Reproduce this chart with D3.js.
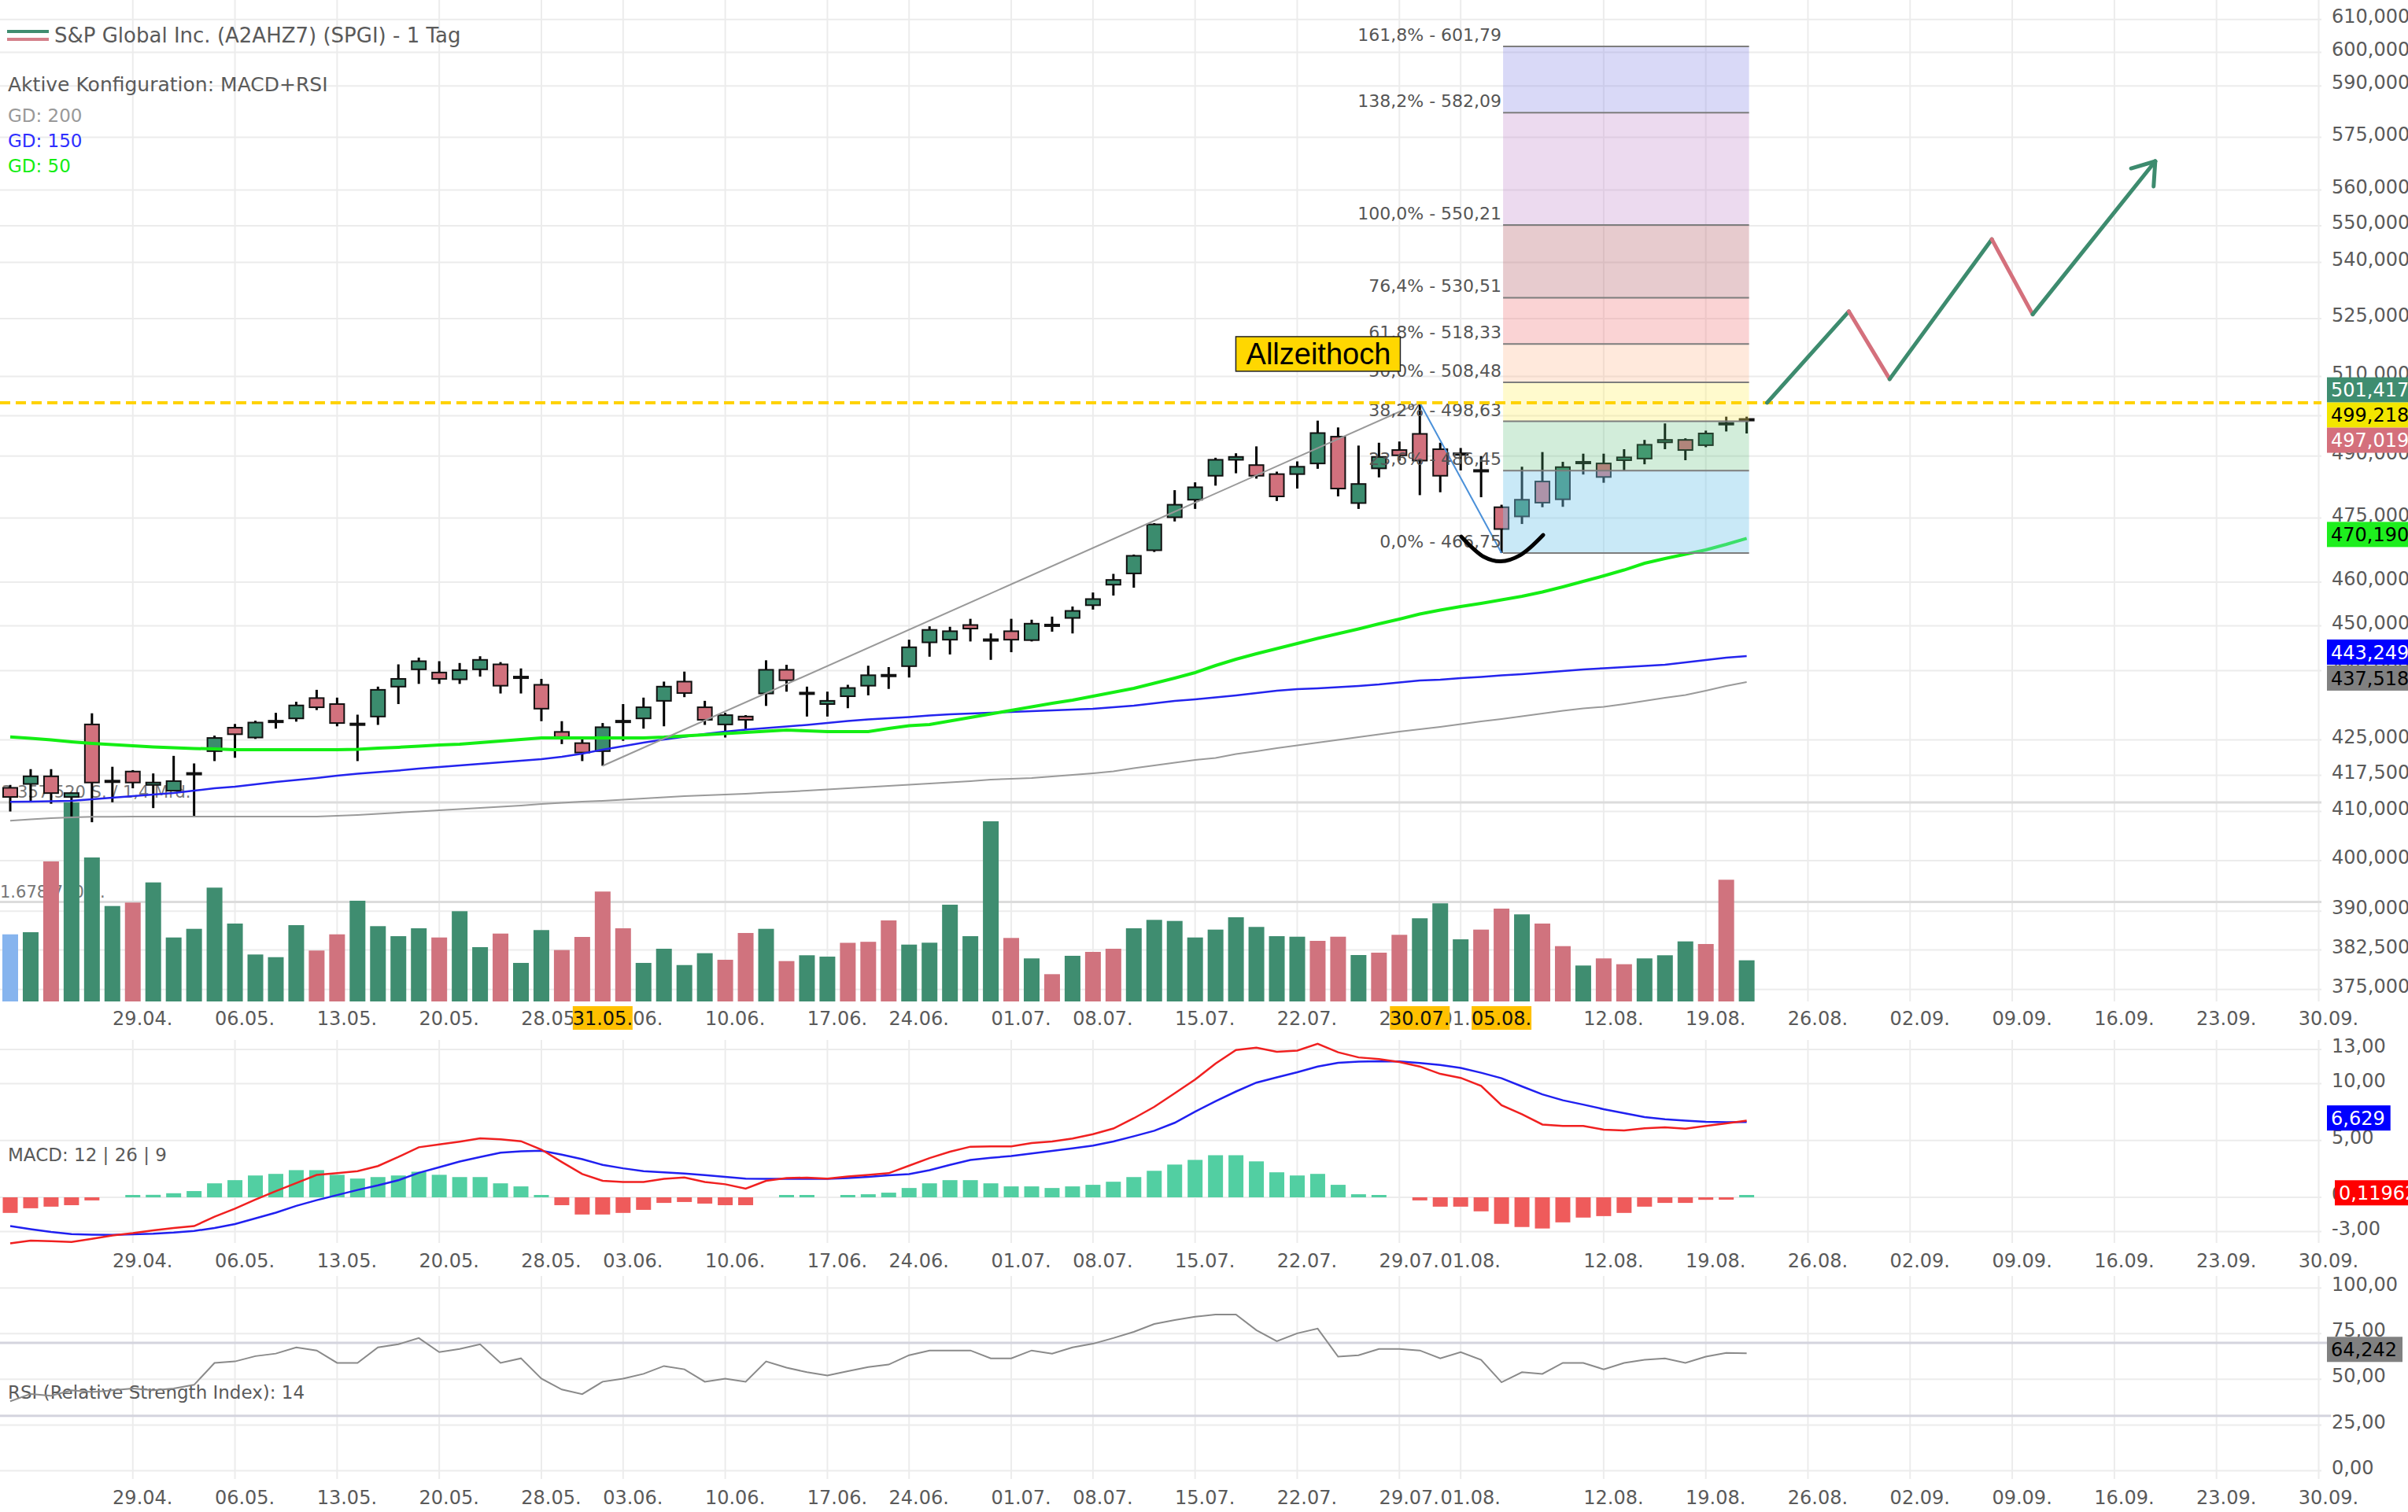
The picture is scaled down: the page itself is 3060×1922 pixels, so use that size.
<!DOCTYPE html>
<html><head><meta charset="utf-8">
<script src="https://cdn.jsdelivr.net/npm/d3@7"></script>
<style>html,body{margin:0;padding:0;background:#fff;}svg{display:block;font-family:"DejaVu Sans",Verdana,sans-serif;}</style>
</head><body>
<svg id="c" width="3060" height="1922"></svg>
<script>
// ---------------- DATA ----------------
const tradingDates = ["19.04.","22.04.","23.04.","24.04.","25.04.","26.04.","29.04.","30.04.","01.05.","02.05.","03.05.","06.05.","07.05.","08.05.","09.05.","10.05.","13.05.","14.05.","15.05.","16.05.","17.05.","20.05.","21.05.","22.05.","23.05.","24.05.","28.05.","29.05.","30.05.","31.05.","03.06.","04.06.","05.06.","06.06.","07.06.","10.06.","11.06.","12.06.","13.06.","14.06.","17.06.","18.06.","20.06.","21.06.","24.06.","25.06.","26.06.","27.06.","28.06.","01.07.","02.07.","03.07.","05.07.","08.07.","09.07.","10.07.","11.07.","12.07.","15.07.","16.07.","17.07.","18.07.","19.07.","22.07.","23.07.","24.07.","25.07.","26.07.","29.07.","30.07.","31.07.","01.08.","02.08.","05.08.","06.08.","07.08.","08.08.","09.08.","12.08.","13.08.","14.08.","15.08.","16.08.","19.08.","20.08.","21.08."];
const futureDates = ["22.08.","23.08.","26.08.","27.08.","28.08.","29.08.","30.08.","02.09.","03.09.","04.09.","05.09.","06.09.","09.09.","10.09.","11.09.","12.09.","13.09.","16.09.","17.09.","18.09.","19.09.","20.09.","23.09.","24.09.","25.09.","26.09.","27.09.","30.09."];
const tickLabels = ["29.04.","06.05.","13.05.","20.05.","28.05.","03.06.","10.06.","17.06.","24.06.","01.07.","08.07.","15.07.","22.07.","29.07.","01.08.","12.08.","19.08.","26.08.","02.09.","09.09.","16.09.","23.09.","30.09."];
const highlightDates = ["31.05.","30.07.","05.08."];

const opens = [414.9,415.7,417.3,413.0,428.3,416.2,418.3,415.5,414.3,417.8,422.6,427.6,425.5,428.9,429.6,434.0,432.7,428.3,430.0,436.5,440.3,439.6,438.1,440.3,441.4,438.5,436.9,426.7,424.3,422.6,428.9,429.6,433.4,437.6,432.0,428.3,430.0,435.0,440.2,435.0,432.7,434.4,436.7,438.9,441.0,446.3,446.9,450.2,446.8,448.8,446.8,450.2,451.8,454.7,459.4,462.0,467.4,475.2,479.4,485.2,489.1,487.8,485.6,485.6,488.2,494.8,478.6,487.0,491.5,495.5,491.7,490.7,486.6,477.6,475.4,483.8,479.5,488.4,488.2,489.0,489.4,493.4,494.0,492.7,498.0,499.0];
const highs = [415.5,418.8,418.8,413.9,430.7,419.3,418.6,417.9,421.6,420.0,425.9,428.4,429.1,430.8,433.2,435.8,434.1,430.4,436.5,441.4,442.9,442.1,441.7,443.2,441.9,440.5,438.2,429.0,425.1,428.6,432.7,434.1,437.6,439.8,433.4,430.8,430.3,442.3,441.3,436.5,435.4,436.9,441.1,440.8,446.9,449.9,449.8,451.6,448.3,451.6,451.4,452.1,454.4,457.6,461.9,466.4,473.8,481.7,483.6,489.6,490.7,492.4,486.2,488.7,498.8,497.1,492.6,493.3,493.6,503.3,493.3,492.0,490.0,478.2,487.4,491.0,488.6,490.6,490.6,491.7,494.0,498.1,494.4,496.3,499.8,499.8];
const lows = [410.0,411.9,411.6,409.0,407.8,411.9,414.8,410.7,414.2,408.9,420.5,421.2,425.2,427.4,428.9,431.4,427.9,420.5,428.2,432.7,437.1,437.1,437.1,438.7,435.0,435.0,429.0,424.1,420.5,419.5,424.8,427.4,427.9,434.2,428.2,425.5,427.3,432.3,435.4,430.0,430.0,431.8,434.6,436.0,438.5,443.1,443.6,446.5,442.4,444.1,446.5,448.7,448.3,453.7,456.9,458.7,467.0,474.2,477.2,482.8,485.8,484.5,479.1,482.1,486.9,480.2,477.2,484.8,488.9,480.5,481.2,486.5,480.0,466.75,473.6,477.6,477.7,485.5,483.5,486.4,488.0,491.7,489.0,492.2,496.1,495.6];
const closes = [413.0,417.3,413.8,413.8,416.0,416.4,416.0,416.0,416.3,418.0,425.4,426.2,428.7,429.1,432.4,432.0,428.6,428.5,435.8,438.2,442.1,438.2,440.1,442.4,436.7,438.7,431.7,425.6,422.3,427.7,429.1,432.0,436.5,435.1,429.3,430.3,429.3,440.2,437.9,435.2,433.4,436.2,439.0,439.1,445.2,449.1,448.8,449.4,447.0,446.9,450.5,450.3,453.4,456.1,460.5,466.1,473.5,478.2,482.4,489.1,489.8,485.2,480.2,487.4,495.7,482.1,483.2,489.8,490.2,488.9,485.2,490.5,486.4,472.4,479.4,478.7,487.3,488.6,484.9,489.7,492.8,494.0,491.5,495.6,498.2,499.218];
const volumes = [1132000,1168000,2362000,3357520,2429000,1610000,1668000,2008000,1079000,1225000,1920000,1314000,792000,747000,1287000,859000,1132000,1699000,1270000,1101000,1234000,1079000,1522000,916000,1145000,650000,1204000,867000,1088000,1854000,1234000,650000,889000,614000,814000,703000,1155000,1225000,681000,779000,756000,989000,1006000,1367000,959000,991000,1632000,1101000,3039000,1071000,726000,460000,770000,836000,889000,1234000,1376000,1358000,1079000,1212000,1420000,1257000,1101000,1092000,1022000,1092000,783000,823000,1124000,1403000,1655000,1048000,1212000,1566000,1469000,1314000,933000,606000,726000,628000,726000,779000,1013000,969000,2053000,694000];
const volumeDir = "nuduuuduuuuuuuudduuuuduuduudddduuuudduduuddduuuuudududduuuuuuuuuddudduuudduddudduuudduuu".slice(0,86);
const volumeMaxLabel = 3357520;
const volumeTurnoverMrd = 1.4;

const gd200 = [408.1,408.39,408.63,408.79,408.91,408.92,408.95,408.95,408.95,408.95,408.95,408.95,408.95,408.95,408.95,408.95,409.12,409.28,409.52,409.77,410.01,410.25,410.5,410.74,410.98,411.22,411.55,411.79,412.03,412.19,412.44,412.68,412.93,413.17,413.34,413.5,413.66,413.91,414.07,414.32,414.56,414.8,415.05,415.3,415.55,415.79,416.04,416.28,416.61,416.77,416.94,417.27,417.6,417.93,418.34,419.0,419.58,420.16,420.74,421.16,421.99,422.57,423.24,423.83,424.41,425.0,425.58,426.17,426.76,427.26,427.77,428.36,428.95,429.46,430.06,430.65,431.24,431.75,432.1,432.69,433.38,434.06,434.66,435.6,436.64,437.518];
const gd150 = [411.98,412.03,412.11,412.19,412.52,412.85,413.17,413.5,413.83,414.32,414.8,415.13,415.62,416.12,416.53,416.94,417.43,417.85,418.17,418.5,418.92,419.25,419.58,419.91,420.25,420.58,420.91,421.41,422.07,422.91,423.66,424.41,425.08,425.67,426.26,426.76,427.18,427.52,427.85,428.19,428.61,429.04,429.38,429.63,429.89,430.23,430.48,430.65,430.82,430.99,431.16,431.33,431.5,431.67,432.01,432.35,432.87,433.38,433.72,434.15,434.57,435.09,435.6,435.95,436.12,436.38,436.64,436.98,437.42,437.85,438.02,438.36,438.62,438.97,439.23,439.58,439.92,440.27,440.53,440.79,441.05,441.3,441.83,442.36,442.88,443.249];
const gd50 = [425.63,425.33,425.0,424.58,424.25,424.0,423.75,423.5,423.33,423.16,423.08,422.91,422.91,422.91,422.91,422.91,422.91,423.0,423.24,423.41,423.66,423.91,424.08,424.41,424.75,425.08,425.42,425.42,425.42,425.42,425.42,425.42,425.58,425.84,426.09,426.34,426.59,426.84,427.1,426.93,426.76,426.76,426.76,427.43,428.02,428.27,429.04,429.8,430.57,431.33,432.1,432.87,433.55,434.4,435.26,436.12,437.24,438.36,439.58,441.14,442.53,443.76,444.9,446.04,447.19,448.25,449.31,450.47,451.54,452.69,453.59,454.39,455.11,455.91,456.72,457.72,458.9,460.16,461.44,462.8,464.36,465.46,466.47,467.49,468.78,470.19];

const macdLine = [-4.05,-3.8,-3.85,-3.92,-3.65,-3.35,-3.15,-2.9,-2.7,-2.53,-1.7,-1.0,-0.2,0.55,1.25,1.97,2.12,2.3,2.75,3.55,4.4,4.65,4.9,5.18,5.1,4.93,4.2,3.1,2.05,1.45,1.35,1.35,1.63,1.75,1.35,1.15,0.77,1.45,1.7,1.73,1.65,1.83,1.97,2.12,2.78,3.45,4.01,4.45,4.48,4.48,4.77,4.91,5.17,5.55,6.05,6.95,7.95,9.15,10.35,11.75,12.95,13.15,12.8,12.9,13.5,12.75,12.3,12.15,11.9,11.5,10.85,10.5,9.8,8.1,7.3,6.4,6.28,6.28,5.95,5.87,6.07,6.15,6.03,6.27,6.5,6.749];
const signalLine = [-2.53,-2.8,-3.05,-3.23,-3.28,-3.3,-3.25,-3.2,-3.1,-2.95,-2.7,-2.35,-1.85,-1.35,-0.75,-0.25,0.2,0.65,1.05,1.5,2.15,2.65,3.15,3.55,3.93,4.05,4.09,3.75,3.35,2.85,2.55,2.3,2.2,2.1,1.95,1.8,1.65,1.63,1.63,1.63,1.63,1.7,1.8,1.93,2.04,2.39,2.85,3.28,3.47,3.63,3.85,4.08,4.31,4.55,4.91,5.37,5.85,6.55,7.53,8.45,9.3,10.08,10.55,11.0,11.5,11.82,11.93,11.97,11.95,11.81,11.63,11.38,10.95,10.47,9.75,9.05,8.53,8.15,7.75,7.4,7.05,6.87,6.75,6.63,6.6,6.629];
const histogram = [-1.37,-0.96,-0.82,-0.69,-0.27,0,0.08,0.22,0.36,0.55,1.23,1.51,1.92,2.06,2.39,2.39,1.98,1.65,1.78,1.92,2.25,1.98,1.78,1.78,1.23,0.96,0.14,-0.69,-1.51,-1.51,-1.37,-1.1,-0.49,-0.41,-0.55,-0.69,-0.69,0,0.08,0.08,0,0.08,0.27,0.41,0.82,1.23,1.51,1.51,1.23,0.96,0.96,0.82,0.96,1.1,1.37,1.78,2.33,2.88,3.29,3.7,3.7,3.16,2.2,1.92,2.06,1.1,0.27,0.14,0,-0.27,-0.82,-0.82,-1.23,-2.33,-2.61,-2.74,-2.2,-1.78,-1.65,-1.37,-0.82,-0.49,-0.49,-0.22,-0.1,0.11962];
const rsiValues = [38,42,41,44,43,44,45,44,45,47,59.0,59.8,62.7,64.1,67.5,65.8,59.0,59.0,67.5,69.2,72.6,64.9,66.6,69.2,59.0,61.5,50.4,44.4,41.9,48.7,50.4,53.0,57.3,55.5,48.7,50.4,48.7,59.8,56.4,53.9,52.1,54.5,56.7,58.1,63.2,65.8,65.8,65.8,61.5,61.5,65.8,64.1,67.5,69.5,72.6,76.0,80.3,82.5,84.3,85.5,85.5,76.9,70.9,75.2,77.8,62.4,63.2,66.6,66.6,65.8,61.5,64.9,60.7,48.4,53.9,53.0,59.0,59.0,55.5,59.0,60.7,61.5,59.0,62.4,64.5,64.242];

const priceTicks = [610,600,590,575,560,550,540,525,510,500,490,475,460,450,440,425,417.5,410,400,390,382.5,375];
const macdTicks = [13,10,5,0,-3];
const rsiTicks = [100,75,50,25,0];
const rsiBands = [70,30];
const fibPct = [0,23.6,38.2,50,61.8,76.4,100,138.2,161.8];
const fibPrice = [466.75,486.45,498.63,508.48,518.33,530.51,550.21,582.09,601.79];
const fibFromDate = "05.08.", fibToDate = "21.08.";
const athPrice = 503.3;
const quoteTags = [501.417, 497.019];
const trendDates = ["31.05.","30.07."], trendPrices = [419.5, 503.3];
const swingDates = ["30.07.","05.08."], swingPrices = [503.3, 466.75];
const smileIdx = [71.03,72.15,72.96,73.92,75.04], smilePrices = [470.6,465.82,464.81,466.28,471.0];
const projDates = ["22.08.","28.08.","30.08.","06.09.","10.09.","18.09."];
const projPrices = [503.3,526.9,509.3,546.3,526.1,568.1];

// ---------------- SETUP ----------------
const W=3060, H=1922, plotR=2950;
const FONT='"DejaVu Sans",Verdana,sans-serif';
const GREEN='#3B8C6E', RED='#D1717D', GRID='#ECECEC', TXT='#5a5a5a';
const svg=d3.select('#c');
svg.append('rect').attr('width',W).attr('height',H).attr('fill','#fff');
const allDates=tradingDates.concat(futureDates);
const idx=d=>allDates.indexOf(d);
const x=d3.scaleLinear().domain([0,allDates.length-1]).range([13,2946.5]);
const yP=d3.scaleLog().domain([466.75,601.79]).range([703,59]);
const yV=d3.scaleLinear().domain([0,volumeMaxLabel]).range([1273,1020]);
const yM=d3.scaleLinear().domain([0,13]).range([1522,1334]);
const yR=d3.scaleLinear().domain([0,100]).range([1869.4,1637.3]);
const comma=s=>s.replace('.',',').replace('\u2212','-');
const tickIdx=tickLabels.map(idx);

// grids
const gGrid=svg.append('g');
[[0,1273],[1322,1580],[1622,1880]].forEach(([a,b])=>{
  gGrid.append('g').selectAll('line').data(tickIdx).join('line')
    .attr('x1',d=>x(d)).attr('x2',d=>x(d)).attr('y1',a).attr('y2',b)
    .attr('stroke',GRID).attr('stroke-width',2);
});
function hgrid(vals,scale){
  gGrid.append('g').selectAll('line').data(vals).join('line')
    .attr('x1',0).attr('x2',plotR).attr('y1',d=>scale(d)).attr('y2',d=>scale(d))
    .attr('stroke',GRID).attr('stroke-width',2);
}
hgrid(priceTicks,yP); hgrid(macdTicks,yM); hgrid(rsiTicks,yR);

// volume reference lines + labels
const gVol=svg.append('g');
[volumeMaxLabel, volumeMaxLabel/2].forEach(v=>{
  gVol.append('line').attr('x1',0).attr('x2',plotR).attr('y1',yV(v)).attr('y2',yV(v)).attr('stroke','#DCDCDC').attr('stroke-width',3);
});
const fmtShares=v=>d3.format(',')(Math.round(v)).replace(/,/g,'.');
gVol.append('text').attr('x',2).attr('y',yV(volumeMaxLabel)-6).attr('font-size',21).attr('fill','#777').attr('font-family',FONT)
  .text(fmtShares(volumeMaxLabel)+' S. / '+String(volumeTurnoverMrd).replace('.',',')+' Mrd.');
gVol.append('text').attr('x',0).attr('y',yV(volumeMaxLabel/2)-6).attr('font-size',21).attr('fill','#777').attr('font-family',FONT)
  .text(fmtShares(volumeMaxLabel/2)+' S.');
gVol.selectAll('rect').data(volumes).join('rect')
  .attr('x',(d,i)=>x(i)-10).attr('width',20).attr('y',d=>yV(d)).attr('height',d=>1273-yV(d))
  .attr('fill',(d,i)=>volumeDir[i]==='n'?'#86B4EE':(volumeDir[i]==='u'?'#3F8D70':'#D0737E'));

// candles
const candles=opens.map((o,i)=>({i,o,h:highs[i],l:lows[i],c:closes[i]}));
const gC=svg.append('g');
gC.selectAll('line').data(candles).join('line')
  .attr('x1',d=>x(d.i)).attr('x2',d=>x(d.i)).attr('y1',d=>yP(d.h)).attr('y2',d=>yP(d.l))
  .attr('stroke','#000').attr('stroke-width',3);
gC.selectAll('rect').data(candles).join('rect')
  .attr('x',d=>x(d.i)-9).attr('width',18)
  .attr('y',d=>yP(Math.max(d.o,d.c))).attr('height',d=>Math.max(2,Math.abs(yP(d.o)-yP(d.c))))
  .attr('fill',d=>d.c>=d.o?GREEN:RED).attr('stroke','#111').attr('stroke-width',2);

// moving averages
const lineP=d3.line().x((d,i)=>x(i)).y(d=>yP(d));
svg.append('path').attr('d',lineP(gd200)).attr('fill','none').attr('stroke','#9a9a9a').attr('stroke-width',2);
svg.append('path').attr('d',lineP(gd150)).attr('fill','none').attr('stroke','#2424EE').attr('stroke-width',2.5);
svg.append('path').attr('d',lineP(gd50)).attr('fill','none').attr('stroke','#14EE14').attr('stroke-width',4);

// trend lines
svg.append('line').attr('x1',x(idx(trendDates[0]))).attr('y1',yP(trendPrices[0])).attr('x2',x(idx(trendDates[1]))).attr('y2',yP(trendPrices[1]))
  .attr('stroke','#999').attr('stroke-width',2);
svg.append('line').attr('x1',x(idx(swingDates[0]))).attr('y1',yP(swingPrices[0])).attr('x2',x(idx(swingDates[1]))).attr('y2',yP(swingPrices[1]))
  .attr('stroke','#4A90D9').attr('stroke-width',2);

// fibonacci box
const zoneFill=['rgba(120,200,235,0.4)','rgba(90,190,120,0.27)','rgba(255,240,100,0.32)','rgba(255,170,120,0.26)','rgba(240,120,125,0.33)','rgba(185,105,115,0.35)','rgba(200,150,210,0.35)','rgba(140,140,230,0.33)'];
const fx0=x(idx(fibFromDate))+2, fx1=x(idx(fibToDate))+3;
const gF=svg.append('g');
gF.selectAll('rect').data(fibPrice.slice(0,-1)).join('rect')
  .attr('x',fx0).attr('width',fx1-fx0).attr('y',(d,i)=>yP(fibPrice[i+1])).attr('height',(d,i)=>yP(d)-yP(fibPrice[i+1]))
  .attr('fill',(d,i)=>zoneFill[i]);
gF.selectAll('line').data(fibPrice).join('line')
  .attr('x1',fx0).attr('x2',fx1).attr('y1',d=>yP(d)).attr('y2',d=>yP(d)).attr('stroke','#7d7d7d').attr('stroke-width',2);
gF.selectAll('text').data(fibPrice).join('text')
  .attr('x',fx0-2).attr('y',d=>yP(d)-7).attr('text-anchor','end').attr('font-size',22).attr('font-family',FONT).attr('fill','#555')
  .text((d,i)=>comma(d3.format('.1f')(fibPct[i]))+'% - '+comma(d3.format('.2f')(d)));

// smile
svg.append('path').attr('d',d3.line().x(d=>x(d[0])).y(d=>yP(d[1])).curve(d3.curveCatmullRom)(smileIdx.map((v,i)=>[v,smilePrices[i]])))
  .attr('fill','none').attr('stroke','#000').attr('stroke-width',5).attr('stroke-linecap','round');

// ATH line
const yAth=yP(athPrice);
svg.append('line').attr('x1',0).attr('x2',plotR).attr('y1',yAth).attr('y2',yAth)
  .attr('stroke','#FFD200').attr('stroke-width',4).attr('stroke-dasharray','13,7');
const athX=x(64);
svg.append('rect').attr('x',athX-104).attr('y',yAth-84).attr('width',209).attr('height',44).attr('fill','#FFD700').attr('stroke','#222').attr('stroke-width',1.5);
svg.append('text').attr('x',athX+1).attr('y',yAth-49).attr('text-anchor','middle').attr('font-size',38).attr('font-family','"Liberation Sans",Arial,sans-serif').attr('fill','#000').text('Allzeithoch');

// projection
const proj=projDates.map((d,i)=>[x(idx(d)),yP(projPrices[i])]);
for(let k=0;k<proj.length-1;k++){
  svg.append('line').attr('x1',proj[k][0]).attr('y1',proj[k][1]).attr('x2',proj[k+1][0]).attr('y2',proj[k+1][1])
    .attr('stroke',projPrices[k+1]>projPrices[k]?'#3D8B6E':'#D4707C').attr('stroke-width',5).attr('stroke-linecap','round');
}
{
  const a=proj[proj.length-2], b=proj[proj.length-1];
  const ang=Math.atan2(a[1]-b[1],a[0]-b[0]);
  [-0.61,0.61].forEach(off=>{
    svg.append('line').attr('x1',b[0]).attr('y1',b[1]).attr('x2',b[0]+32*Math.cos(ang+off)).attr('y2',b[1]+32*Math.sin(ang+off))
      .attr('stroke','#3D8B6E').attr('stroke-width',5).attr('stroke-linecap','round');
  });
}

// MACD pane
const gM=svg.append('g');
gM.selectAll('rect').data(histogram).join('rect')
  .attr('x',(d,i)=>x(i)-9.5).attr('width',19)
  .attr('y',d=>d>=0?yM(d)-(Math.abs(yM(0)-yM(d))<3?3-Math.abs(yM(0)-yM(d)):0):yM(0))
  .attr('height',d=>d===0?0:Math.max(3,Math.abs(yM(0)-yM(d))))
  .attr('fill',d=>d>=0?'#52CFA2':'#EF5B5B');
gM.append('text').attr('x',10).attr('y',1476).attr('font-size',23).attr('font-family',FONT).attr('fill',TXT).text('MACD: 12 | 26 | 9');
const lineM=d3.line().x((d,i)=>x(i)).y(d=>yM(d));
gM.append('path').attr('d',lineM(signalLine)).attr('fill','none').attr('stroke','#2020F0').attr('stroke-width',2.5);
gM.append('path').attr('d',lineM(macdLine)).attr('fill','none').attr('stroke','#F02020').attr('stroke-width',2.5);

// RSI pane
const gR=svg.append('g');
gR.selectAll('line').data(rsiBands).join('line').attr('x1',0).attr('x2',2962).attr('y1',d=>yR(d)).attr('y2',d=>yR(d)).attr('stroke','#D4D4DE').attr('stroke-width',3);
gR.append('text').attr('x',10).attr('y',1778).attr('font-size',23).attr('font-family',FONT).attr('fill',TXT).text('RSI (Relative Strength Index): 14');
gR.append('path').attr('d',d3.line().x((d,i)=>x(i)).y(d=>yR(d))(rsiValues)).attr('fill','none').attr('stroke','#8a8a8a').attr('stroke-width',2);

// axes
function rightAxis(scale,vals,fmt){
  const g=svg.append('g').attr('transform','translate(2963,-5)')
    .call(d3.axisRight(scale).tickValues(vals).tickFormat(fmt).tickSize(0).tickPadding(0));
  g.select('.domain').remove();
  g.attr('font-size',24).attr('font-family',FONT);
  g.selectAll('text').attr('fill',TXT).attr('dy','0.36em');
}
rightAxis(yP,priceTicks,v=>comma(d3.format('.3f')(v)));
rightAxis(yM,macdTicks,v=>comma(d3.format('.2f')(v)));
rightAxis(yR,rsiTicks,v=>comma(d3.format('.2f')(v)));
function dateAxis(yc){
  const g=svg.append('g').attr('transform',`translate(12,${yc})`)
    .call(d3.axisBottom(x).tickValues(tickIdx).tickFormat(i=>allDates[i]).tickSize(0).tickPadding(0));
  g.select('.domain').remove();
  g.attr('font-size',24).attr('font-family',FONT);
  g.selectAll('text').attr('y',0).attr('dy','0.36em').attr('fill',TXT);
}
dateAxis(1294); dateAxis(1602); dateAxis(1903);
highlightDates.forEach(d=>{
  const cx=x(idx(d));
  svg.append('rect').attr('x',cx-38).attr('y',1279).attr('width',76).attr('height',30).attr('fill','#FFC000');
  svg.append('text').attr('x',cx).attr('y',1294).attr('dy','0.36em').attr('text-anchor','middle').attr('font-size',24).attr('font-family',FONT).attr('fill','#111').text(d);
});

// value tags
function tag(yc,txt,bg,fg,x0){
  const g=svg.append('g');
  const r=g.append('rect').attr('fill',bg);
  const t=g.append('text').attr('x',x0+5).attr('y',yc).attr('dy','0.36em').attr('font-size',24).attr('font-family',FONT).attr('fill',fg).text(txt);
  const w=t.node().getComputedTextLength()+12;
  r.attr('x',x0).attr('y',yc-16).attr('width',w).attr('height',32);
}
const f3=v=>comma(d3.format('.3f')(v));
let ptags=[
  {v:quoteTags[0],bg:'#3F8D70',fg:'#fff'},
  {v:closes[closes.length-1],bg:'#F2E600',fg:'#000'},
  {v:quoteTags[1],bg:'#D4707C',fg:'#fff'},
  {v:gd50[gd50.length-1],bg:'#1EEE1E',fg:'#000'},
  {v:gd150[gd150.length-1],bg:'#0000FF',fg:'#fff'},
  {v:gd200[gd200.length-1],bg:'#808080',fg:'#000'}
].map(d=>Object.assign(d,{y:yP(d.v)-5}));
ptags.sort((a,b)=>a.y-b.y);
let cl=ptags.map(d=>({items:[d],m:d.y}));
const TH=32;
let merged=true;
while(merged){
  merged=false;
  for(let k=0;k<cl.length-1;k++){
    const a=cl[k],b=cl[k+1];
    if(a.m+a.items.length*TH/2>b.m-b.items.length*TH/2){
      const items=a.items.concat(b.items);
      cl.splice(k,2,{items,m:d3.mean(items,d=>d.y)}); merged=true; break;
    }
  }
}
cl.forEach(c=>{const top=c.m-c.items.length*TH/2; c.items.forEach((d,j)=>{d.py=top+(j+0.5)*TH;});});
ptags.forEach(d=>tag(d.py,f3(d.v),d.bg,d.fg,2957));
tag(yM(signalLine[signalLine.length-1])-5,f3(signalLine[signalLine.length-1]),'#0000FF','#fff',2957);
tag(yM(histogram[histogram.length-1])-4,comma(d3.format('.5f')(histogram[histogram.length-1])),'#FF0000','#fff',2967);
tag(yR(rsiValues[rsiValues.length-1])-5,f3(rsiValues[rsiValues.length-1]),'#808080','#000',2957);

// header / legend
svg.append('line').attr('x1',9).attr('x2',62).attr('y1',40).attr('y2',40).attr('stroke','#3F8D70').attr('stroke-width',4);
svg.append('line').attr('x1',9).attr('x2',62).attr('y1',50).attr('y2',50).attr('stroke','#D4808A').attr('stroke-width',4);
svg.append('text').attr('x',69).attr('y',54).attr('font-size',26).attr('font-family',FONT).attr('fill',TXT).text('S&P Global Inc. (A2AHZ7) (SPGI) - 1 Tag');
svg.append('text').attr('x',10).attr('y',116).attr('font-size',25).attr('font-family',FONT).attr('fill',TXT).text('Aktive Konfiguration: MACD+RSI');
[['GD: 200','#999'],['GD: 150','#2E2EFF'],['GD: 50','#12EE12']].forEach((d,i)=>{
  svg.append('text').attr('x',10).attr('y',155+i*32).attr('font-size',23).attr('font-family',FONT).attr('fill',d[1]).text(d[0]);
});
</script>
</body></html>
